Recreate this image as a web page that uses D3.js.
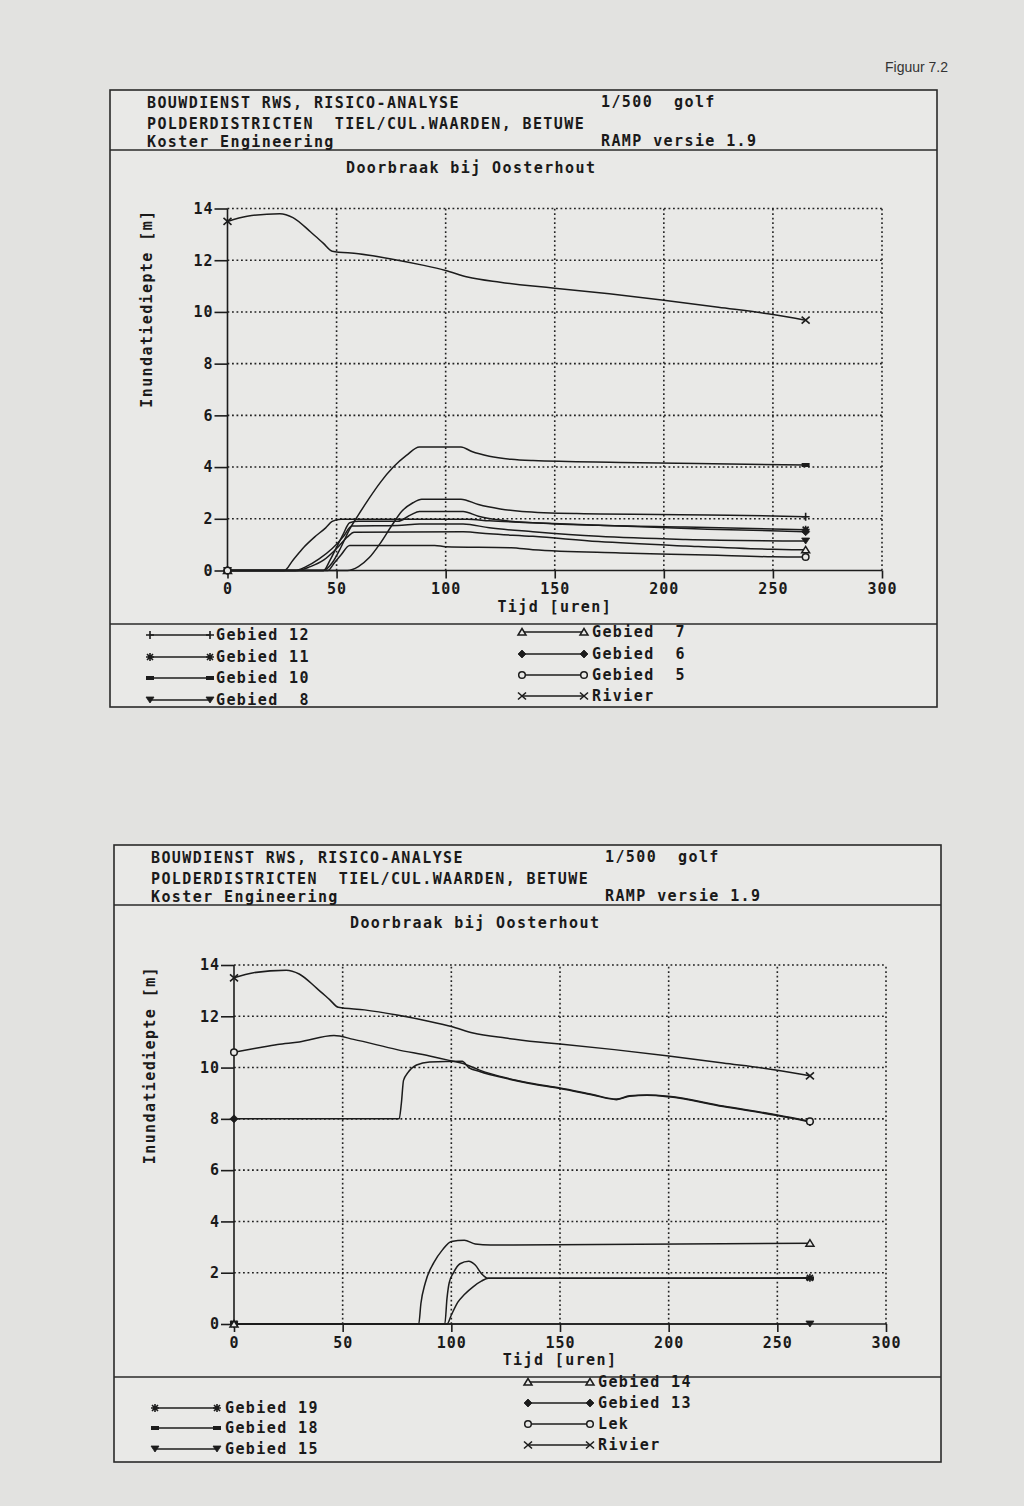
<!DOCTYPE html>
<html><head><meta charset="utf-8">
<script src="https://cdn.jsdelivr.net/npm/d3@7"></script>
<style>
html,body{margin:0;padding:0;background:#e2e2e0;}
svg{display:block;}
.t{font-family:"DejaVu Sans Mono",monospace;font-weight:bold;font-size:15px;letter-spacing:1.4px;fill:#1a1a1a;white-space:pre;}
</style></head><body>
<svg id="c" width="1024" height="1506"></svg>
<script>
// ---------------- data ----------------
const xTicks = [0, 50, 100, 150, 200, 250, 300];
const yTicks = [0, 2, 4, 6, 8, 10, 12, 14];
const headerLeft = ["BOUWDIENST RWS, RISICO-ANALYSE", "POLDERDISTRICTEN  TIEL/CUL.WAARDEN, BETUWE", "Koster Engineering"];
const headerRight = ["1/500  golf", "", "RAMP versie 1.9"];
const chartTitle = "Doorbraak bij Oosterhout";
const xTitle = "Tijd [uren]";
const yTitle = "Inundatiediepte [m]";
const figLabel = "Figuur 7.2";

// shared river curve (both charts)
const rivier = [[0,13.5],[9,13.7],[24,13.8],[30,13.65],[38,13.1],[44,12.65],[48,12.35],[60,12.25],[75,12.05],[90,11.8],[100,11.6],[110,11.35],[125,11.15],[140,11.0],[150,10.92],[175,10.7],[200,10.45],[225,10.18],[250,9.9],[265,9.68]];

// top chart
const top_g12 = [[0,0],[55,0],[60,0.15],[65,0.5],[70,1.05],[75,1.7],[80,2.3],[85,2.62],[89,2.76],[107,2.76],[115,2.55],[125,2.38],[135,2.28],[160,2.2],[230,2.14],[265,2.08]];
const top_g11 = [[0,0],[44,0],[47,0.4],[50,0.9],[53,1.4],[56,1.85],[60,1.9],[78,1.9],[84,2.15],[88,2.28],[108,2.28],[115,2.1],[125,1.95],[140,1.85],[170,1.75],[210,1.68],[265,1.58]];
const top_g10 = [[0,0],[44,0],[48,0.3],[52,0.9],[56,1.6],[60,2.15],[65,2.8],[70,3.4],[76,4.0],[82,4.45],[88,4.78],[107,4.78],[112,4.6],[120,4.42],[130,4.3],[140,4.25],[180,4.18],[230,4.12],[265,4.08]];
const top_g8  = [[0,0],[31,0],[36,0.15],[42,0.45],[48,0.85],[53,1.3],[57,1.72],[78,1.74],[88,1.8],[108,1.8],[120,1.65],[140,1.5],[170,1.32],[210,1.2],[265,1.14]];
const top_g7  = [[0,0],[32,0],[38,0.15],[44,0.4],[50,0.85],[55,1.3],[58,1.48],[108,1.5],[120,1.42],[140,1.32],[170,1.12],[210,0.95],[250,0.82],[265,0.8]];
const top_g6  = [[0,0],[26,0],[30,0.4],[35,0.9],[40,1.3],[45,1.65],[48,1.9],[52,1.98],[110,1.98],[120,1.92],[140,1.85],[180,1.72],[220,1.6],[265,1.5]];
const top_g5  = [[0,0],[46,0],[49,0.3],[52,0.6],[56,0.97],[95,0.97],[100,0.92],[130,0.88],[140,0.8],[180,0.68],[220,0.6],[250,0.53],[265,0.52]];

// bottom chart
const bot_g19 = [[0,0],[97,0],[98,1.0],[99,1.6],[101,2.0],[104,2.35],[108,2.45],[111,2.3],[114,1.95],[117,1.78],[265,1.8]];
const bot_g18 = [[0,0],[98,0],[100,0.35],[103,0.85],[106,1.15],[110,1.45],[114,1.68],[117,1.78],[265,1.78]];
const bot_g15 = [[0,0],[265,0]];
const bot_g14 = [[0,0],[85,0],[86,0.8],[88,1.6],[92,2.4],[96,2.9],[100,3.22],[106,3.27],[111,3.12],[118,3.08],[265,3.15]];
const bot_g13 = [[0,8],[76,8],[77,8.6],[78,9.5],[80,9.8],[84,10.1],[90,10.22],[105,10.25],[108,10.0],[113,9.85],[125,9.58],[136,9.38],[150,9.18],[165,8.93],[176,8.75],[182,8.88],[190,8.92],[200,8.86],[225,8.48],[250,8.13],[265,7.88]];
const bot_lek = [[0,10.6],[10,10.75],[20,10.9],[30,11.0],[46,11.25],[55,11.1],[75,10.7],[90,10.45],[98,10.3],[105,10.17],[113,9.9],[125,9.6],[136,9.4],[150,9.2],[165,8.95],[176,8.77],[182,8.9],[190,8.93],[200,8.88],[225,8.5],[250,8.15],[265,7.9]];

const topSeries = [
  {name:"Gebied 12", mark:"plus", data:top_g12},
  {name:"Gebied 11", mark:"star", data:top_g11},
  {name:"Gebied 10", mark:"rect", data:top_g10},
  {name:"Gebied  8", mark:"tridown", data:top_g8},
  {name:"Gebied  7", mark:"triup", data:top_g7},
  {name:"Gebied  6", mark:"diamond", data:top_g6},
  {name:"Gebied  5", mark:"circle", data:top_g5},
  {name:"Rivier", mark:"x", data:rivier}
];
const botSeries = [
  {name:"Gebied 19", mark:"star", data:bot_g19},
  {name:"Gebied 18", mark:"rect", data:bot_g18},
  {name:"Gebied 15", mark:"tridown", data:bot_g15},
  {name:"Gebied 14", mark:"triup", data:bot_g14},
  {name:"Gebied 13", mark:"diamond", data:bot_g13},
  {name:"Lek", mark:"circle", data:bot_lek},
  {name:"Rivier", mark:"x", data:rivier}
];

// ---------------- drawing ----------------
const svg = d3.select("#c");
const INK = "#1c1c1c";
const BOXFILL = "#e9e9e7";

svg.append("text").attr("x", 885).attr("y", 67).attr("dy", "0.35em")
  .style("font-family", "Liberation Sans, Arial, sans-serif").style("font-size", "14px").attr("fill", "#333")
  .text(figLabel);

function marker(g, type, x, y) {
  const m = g.append("g").attr("transform", `translate(${x},${y})`);
  const st = p => m.append("path").attr("d", p).attr("fill", "none").attr("stroke", INK).attr("stroke-width", 1.6);
  const fi = p => m.append("path").attr("d", p).attr("fill", INK).attr("stroke", INK).attr("stroke-width", 0.8);
  switch (type) {
    case "plus": st("M-4,0H4M0,-4V4"); break;
    case "star": st("M-4,0H4M0,-4V4M-3,-3L3,3M-3,3L3,-3"); break;
    case "rect": m.append("rect").attr("x", -4).attr("y", -2).attr("width", 8).attr("height", 4).attr("fill", INK); break;
    case "tridown": fi("M-4,-3L4,-3L0,3Z"); break;
    case "triup": m.append("path").attr("d", "M-4,3L4,3L0,-3.5Z").attr("fill", BOXFILL).attr("stroke", INK).attr("stroke-width", 1.5); break;
    case "diamond": fi("M0,-4L4,0L0,4L-4,0Z"); break;
    case "circle": m.append("circle").attr("r", 3.3).attr("fill", BOXFILL).attr("stroke", INK).attr("stroke-width", 1.5); break;
    case "x": st("M-4,-3.5L4,3.5M-4,3.5L4,-3.5"); break;
  }
}

function drawChart(cfg) {
  const g = svg.append("g");
  const b = cfg.box;
  g.append("rect").attr("x", b.x).attr("y", b.y).attr("width", b.w).attr("height", b.h)
    .attr("fill", BOXFILL).attr("stroke", "#2a2a2a").attr("stroke-width", 1.6);
  g.append("line").attr("x1", b.x).attr("x2", b.x + b.w).attr("y1", b.y + 60).attr("y2", b.y + 60)
    .attr("stroke", "#2a2a2a").attr("stroke-width", 1.6);
  g.append("line").attr("x1", b.x).attr("x2", b.x + b.w).attr("y1", cfg.legendY).attr("y2", cfg.legendY)
    .attr("stroke", "#2a2a2a").attr("stroke-width", 1.6);

  const rowY = [13, 34, 52];
  headerLeft.forEach((t, i) => g.append("text").attr("class", "t").attr("x", b.x + cfg.hl).attr("y", b.y + rowY[i]).attr("dy", "0.35em").text(t));
  headerRight.forEach((t, i) => { if (t) g.append("text").attr("class", "t").attr("x", b.x + cfg.hr).attr("y", b.y + rowY[i] - 1).attr("dy", "0.35em").text(t); });
  g.append("text").attr("class", "t").attr("x", b.x + 236).attr("y", b.y + 78).attr("dy", "0.35em").text(chartTitle);

  const x = d3.scaleLinear().domain([0, 300]).range([cfg.px0, cfg.px1]);
  const y = d3.scaleLinear().domain([0, 14]).range([cfg.py0, cfg.py1]);

  // dotted grid
  const grid = g.append("g").attr("stroke", "#222").attr("stroke-width", 1.6).attr("stroke-dasharray", "1.8,2.7");
  yTicks.filter(v => v > 0).forEach(v => grid.append("line").attr("x1", x(0)).attr("x2", x(300)).attr("y1", y(v)).attr("y2", y(v)));
  xTicks.filter(v => v > 0).forEach(v => grid.append("line").attr("x1", x(v)).attr("x2", x(v)).attr("y1", y(0)).attr("y2", y(14)));

  // axes
  const ya = g.append("g").attr("transform", `translate(${x(0)},0)`)
    .call(d3.axisLeft(y).tickValues(yTicks).tickSize(13).tickPadding(1).tickFormat(d3.format("d")));
  ya.select(".domain").attr("stroke", INK).attr("stroke-width", 1.6).attr("d", `M0,${y(0)}V${y(14)}`);
  ya.selectAll(".tick line").attr("stroke", INK).attr("stroke-width", 1.6);
  ya.selectAll(".tick text").attr("class", "t").attr("fill", INK).style("letter-spacing", "1px");

  const xa = g.append("g").attr("transform", `translate(0,${y(0)})`)
    .call(d3.axisBottom(x).tickValues(xTicks).tickSize(8).tickPadding(5).tickFormat(d3.format("d")));
  xa.select(".domain").attr("stroke", INK).attr("stroke-width", 1.6).attr("d", `M${x(0)},0H${x(300)}`);
  xa.selectAll(".tick line").attr("stroke", INK).attr("stroke-width", 1.6);
  xa.selectAll(".tick text").attr("class", "t").attr("fill", INK).attr("text-anchor", "middle").style("letter-spacing", "1px");

  g.append("text").attr("class", "t").attr("x", (x(0) + x(300)) / 2).attr("y", y(0) + 36).attr("dy", "0.35em")
    .attr("text-anchor", "middle").text(xTitle);
  g.append("text").attr("class", "t").attr("transform", `translate(${x(0) - cfg.ytOff},${y(14) + 1}) rotate(-90)`)
    .attr("dy", "0.35em").attr("text-anchor", "end").text(yTitle);

  // series
  const line = d3.line().x(d => x(d[0])).y(d => y(d[1])).curve(d3.curveMonotoneX);
  cfg.series.forEach(s => {
    g.append("path").attr("d", line(s.data)).attr("fill", "none").attr("stroke", INK).attr("stroke-width", 1.5);
  });
  cfg.series.forEach(s => {
    const f = s.data[0], l = s.data[s.data.length - 1];
    marker(g, s.mark, x(f[0]), y(f[1]));
    marker(g, s.mark, x(l[0]), y(l[1]));
  });

  // legend
  cfg.legend.forEach(col => {
    col.items.forEach((name, i) => {
      const s = cfg.series.find(d => d.name === name);
      const yy = col.rows[i];
      g.append("line").attr("x1", col.x0).attr("x2", col.x1).attr("y1", yy).attr("y2", yy).attr("stroke", INK).attr("stroke-width", 1.4);
      marker(g, s.mark, col.x0, yy);
      marker(g, s.mark, col.x1, yy);
      g.append("text").attr("class", "t").attr("x", col.tx).attr("y", yy).attr("dy", "0.35em").text(name);
    });
  });
}

drawChart({
  box: {x: 110, y: 90, w: 827, h: 617}, legendY: 624, hl: 37, hr: 491,
  px0: 227.5, px1: 882, py0: 570.5, py1: 208.5, ytOff: 81,
  series: topSeries,
  legend: [
    {items: ["Gebied 12", "Gebied 11", "Gebied 10", "Gebied  8"], rows: [635, 657, 678, 700], x0: 150, x1: 210, tx: 216},
    {items: ["Gebied  7", "Gebied  6", "Gebied  5", "Rivier"], rows: [632, 654, 675, 696], x0: 522, x1: 584, tx: 592}
  ]
});

drawChart({
  box: {x: 114, y: 845, w: 827, h: 617}, legendY: 1377, hl: 37, hr: 491,
  px0: 234, px1: 886, py0: 1324, py1: 965, ytOff: 84,
  series: botSeries,
  legend: [
    {items: ["Gebied 19", "Gebied 18", "Gebied 15"], rows: [1408, 1428, 1449], x0: 155, x1: 217, tx: 225},
    {items: ["Gebied 14", "Gebied 13", "Lek", "Rivier"], rows: [1382, 1403, 1424, 1445], x0: 528, x1: 590, tx: 598}
  ]
});
</script>
</body></html>
